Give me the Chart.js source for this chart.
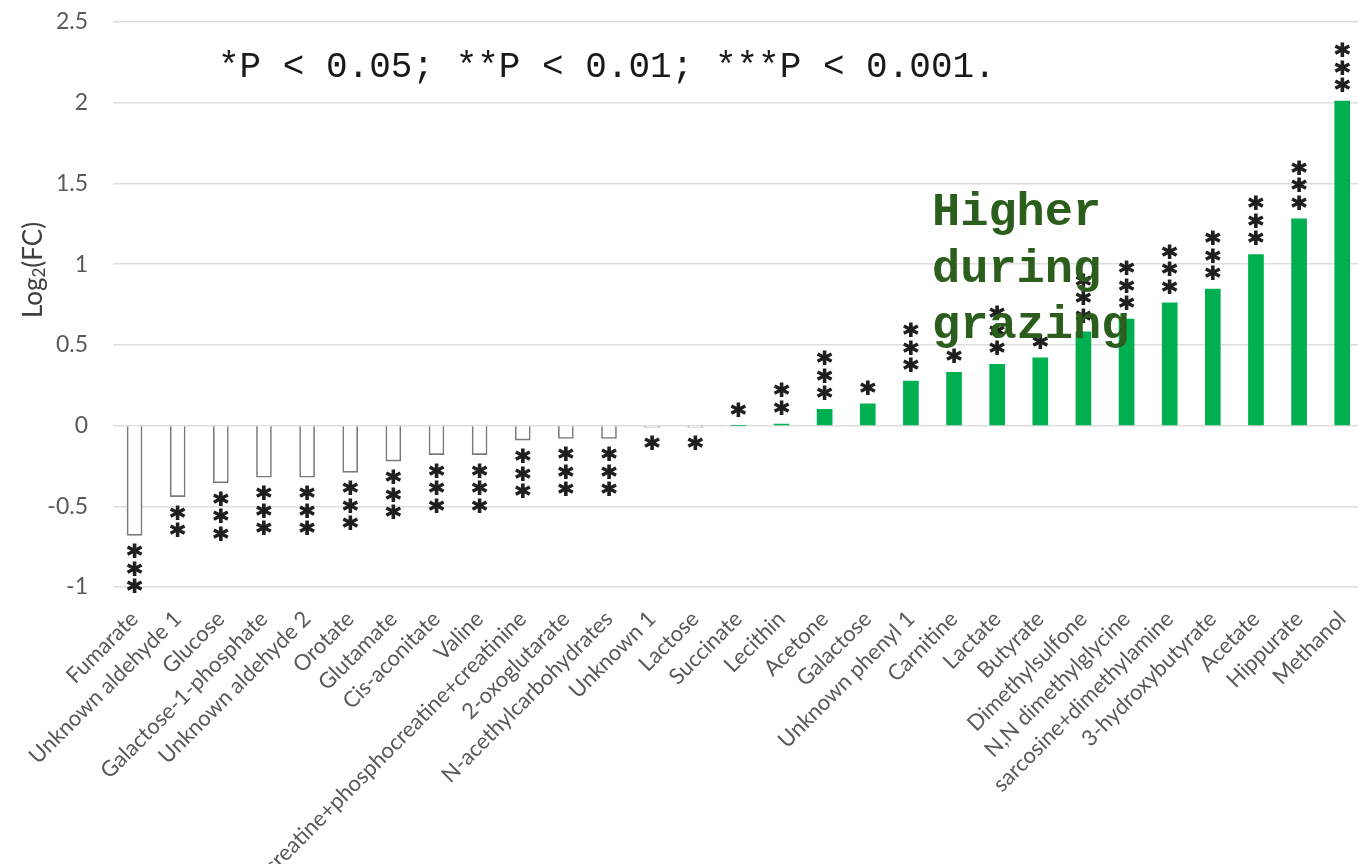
<!DOCTYPE html>
<html>
<head>
<meta charset="utf-8">
<script src="https://cdn.jsdelivr.net/npm/chart.js@4/dist/chart.umd.min.js"></script>
<style>
  html, body { margin: 0; padding: 0; background: #ffffff; overflow: hidden; }
  #wrap { position: relative; width: 1380px; height: 864px; }
</style>
</head>
<body>
<div id="wrap"><canvas id="chart" width="1380" height="864"></canvas></div>
<script>
// Metabolites, ordered from most decreased to most increased
const metabolites = [
  'Fumarate', 'Unknown aldehyde 1', 'Glucose', 'Galactose-1-phosphate',
  'Unknown aldehyde 2', 'Orotate', 'Glutamate', 'Cis-aconitate', 'Valine',
  'creatine+phosphocreatine+creatinine', '2-oxoglutarate', 'N-acethylcarbohydrates',
  'Unknown 1', 'Lactose', 'Succinate', 'Lecithin', 'Acetone', 'Galactose',
  'Unknown phenyl 1', 'Carnitine', 'Lactate', 'Butyrate', 'Dimethylsulfone',
  'N,N dimethylglycine', 'sarcosine+dimethylamine', '3-hydroxybutyrate',
  'Acetate', 'Hippurate', 'Methanol'
];

// log2 fold change per metabolite
const log2FC = [
  -0.68, -0.44, -0.355, -0.32,
  -0.32, -0.29, -0.22, -0.18, -0.18,
  -0.09, -0.08, -0.08,
  -0.01, -0.01, 0, 0.01, 0.10, 0.135,
  0.275, 0.33, 0.38, 0.42, 0.58,
  0.66, 0.76, 0.845,
  1.06, 1.28, 2.01
];

// significance level: number of asterisks (* P<0.05, ** P<0.01, *** P<0.001)
const significance = [
  3, 2, 3, 3,
  3, 3, 3, 3, 3,
  3, 3, 3,
  1, 1, 1, 2, 3, 1,
  3, 1, 3, 1, 3,
  3, 3, 3,
  3, 3, 3
];

// value axis
const yMin = -1;
const yMax = 2.5;
const yStep = 0.5;

const pValueNote = '*P < 0.05; **P < 0.01; ***P < 0.001.';
const higherNote = ['Higher', 'during', 'grazing'];
const yTitleMain = 'Log';
const yTitleSub = '2';
const yTitleTail = '(FC)';

const GREEN = '#00b050';
const OUTLINE = '#7a7a7a';
const AXIS_TEXT = '#595959';

// asterisks stacked beyond the end of each bar
const starsPlugin = {
  id: 'stars',
  afterDatasetsDraw(chart) {
    const ctx = chart.ctx;
    const xs = chart.scales.x;
    const ys = chart.scales.y;
    ctx.save();
    ctx.font = 'bold 29px "DejaVu Sans"';
    ctx.fillStyle = '#1e1e1e';
    ctx.strokeStyle = '#1e1e1e';
    ctx.lineWidth = 1.2;
    ctx.textAlign = 'center';
    ctx.textBaseline = 'alphabetic';
    const m = ctx.measureText('*');
    const centerShift = (m.actualBoundingBoxAscent - m.actualBoundingBoxDescent) / 2;
    log2FC.forEach((v, i) => {
      const x = xs.getPixelForValue(i);
      const yEnd = ys.getPixelForValue(v);
      const dir = v < 0 ? 1 : -1;
      for (let k = 0; k < significance[i]; k++) {
        const y = yEnd + dir * (16 + k * 17.5);
        ctx.fillText('*', x, y + centerShift);
        ctx.strokeText('*', x, y + centerShift);
      }
    });
    ctx.restore();
  }
};

// axis title and notes placed over the plot
const notesPlugin = {
  id: 'notes',
  afterDraw(chart) {
    const ctx = chart.ctx;
    ctx.save();

    // y axis title with subscript
    ctx.translate(34, 270);
    ctx.rotate(-Math.PI / 2);
    ctx.fillStyle = '#404040';
    ctx.textBaseline = 'middle';
    ctx.textAlign = 'left';
    const big = '26px Lato';
    const small = '17px Lato';
    ctx.font = big;
    const w1 = ctx.measureText(yTitleMain).width;
    const w3 = ctx.measureText(yTitleTail).width;
    ctx.font = small;
    const w2 = ctx.measureText(yTitleSub).width;
    const x0 = -(w1 + w2 + w3) / 2;
    ctx.font = big;
    ctx.fillText(yTitleMain, x0, 0);
    ctx.font = small;
    ctx.fillText(yTitleSub, x0 + w1, 6);
    ctx.font = big;
    ctx.fillText(yTitleTail, x0 + w1 + w2, 0);
    ctx.restore();

    ctx.save();
    ctx.textAlign = 'left';
    ctx.textBaseline = 'alphabetic';
    ctx.fillStyle = '#1a1a1a';
    ctx.font = '36px "Liberation Mono"';
    ctx.fillText(pValueNote, 218, 77);

    ctx.fillStyle = '#2b5e1c';
    ctx.font = 'bold 47px "Liberation Mono"';
    const baselines = [225, 282, 338];
    higherNote.forEach((line, i) => ctx.fillText(line, 932, baselines[i]));
    ctx.restore();
  }
};

new Chart(document.getElementById('chart'), {
  type: 'bar',
  data: {
    labels: metabolites,
    datasets: [{
      data: log2FC,
      backgroundColor: ctx => (log2FC[ctx.dataIndex] < 0 ? '#ffffff' : GREEN),
      borderColor: OUTLINE,
      borderWidth: ctx => (log2FC[ctx.dataIndex] < 0 ? 1.6 : 0),
      barThickness: 15
    }]
  },
  options: {
    responsive: false,
    animation: false,
    events: [],
    layout: { padding: { top: 22, right: 7, left: 0, bottom: 0 } },
    plugins: {
      legend: { display: false },
      tooltip: { enabled: false },
      title: { display: false }
    },
    scales: {
      x: {
        offset: true,
        grid: { display: false, drawTicks: false },
        border: { display: false },
        ticks: {
          autoSkip: false,
          maxRotation: 45,
          minRotation: 45,
          padding: 19,
          color: AXIS_TEXT,
          font: { family: 'Lato', size: 22 }
        },
        afterFit(scale) { scale.height = 277; }
      },
      y: {
        min: yMin,
        max: yMax,
        grid: {
          color: '#dedede',
          lineWidth: 1.5,
          drawTicks: true,
          tickLength: 22,
          tickColor: 'rgba(0,0,0,0)'
        },
        border: { display: false },
        ticks: {
          stepSize: yStep,
          padding: 3,
          color: AXIS_TEXT,
          font: { family: 'Lato', size: 23 },
          callback: v => String(v)
        },
        afterFit(scale) { scale.width = 113; }
      }
    }
  },
  plugins: [starsPlugin, notesPlugin]
});
</script>
</body>
</html>
